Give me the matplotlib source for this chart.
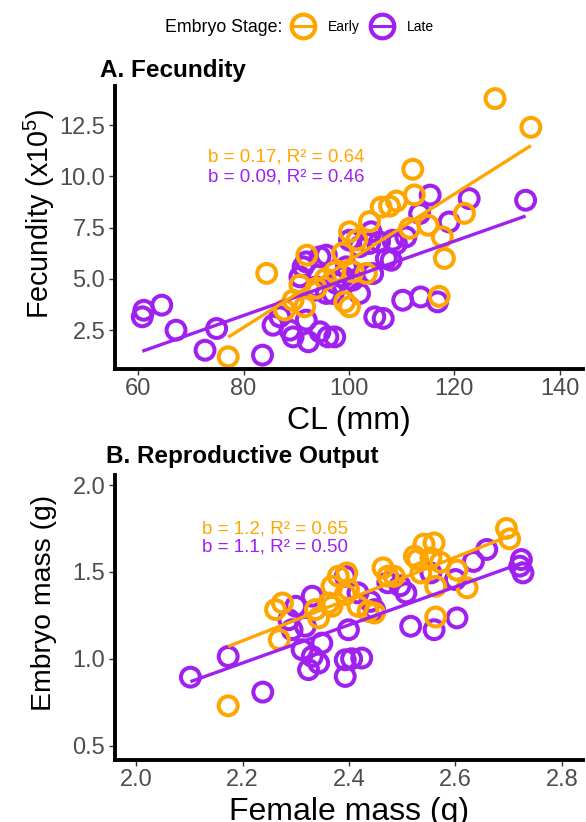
import numpy as np
import matplotlib
matplotlib.use("Agg")
import matplotlib.pyplot as plt
from matplotlib.lines import Line2D

plt.rcParams["font.family"] = ["Liberation Sans", "DejaVu Sans"]
plt.rcParams["mathtext.fontset"] = "custom"
plt.rcParams["mathtext.rm"] = "Liberation Sans"
plt.rcParams["mathtext.it"] = "Liberation Sans:italic"

ORANGE = "#FFA500"
PURPLE = "#A020F0"

# Panel A: carapace length (mm) vs fecundity (x10^5)
early_cl = [127.7, 134.5, 112.1, 112.4, 109.0, 107.7, 106.1, 121.9, 115.0, 111.5,
            103.9, 100.1, 117.7, 118.1, 98.8, 92.0, 84.4, 97.3, 103.3, 100.8,
            90.7, 93.8, 117.1, 99.2, 100.1, 87.8, 91.6, 89.4, 77.1, 101.5, 95.5]
early_fec = [13.8, 12.4, 10.35, 9.1, 8.8, 8.55, 8.5, 8.2, 7.62, 7.47,
             7.8, 7.3, 7.05, 6.0, 6.26, 6.16, 5.27, 5.34, 5.27, 5.35,
             4.7, 4.55, 4.15, 3.88, 3.64, 3.48, 3.64, 3.96, 1.2, 6.9, 5.0]
late_cl = [60.8, 61.1, 64.5, 67.2, 74.9, 72.7, 83.6, 85.6, 86.9, 88.8,
           89.4, 91.9, 92.3, 94.5, 96.0, 97.3, 91.9, 94.5, 95.7, 91.3,
           93.8, 93.5, 97.0, 97.6, 95.7, 100.1, 102.0, 104.2, 105.8, 103.9,
           104.5, 102.0, 100.7, 99.5, 108.0, 107.1, 108.3, 109.0, 110.8, 113.4,
           115.4, 119.0, 122.8, 133.5, 110.2, 113.6, 116.8, 104.9, 106.5, 90.7, 98.9]
late_fec = [3.15, 3.47, 3.72, 2.5, 2.58, 1.52, 1.28, 2.74, 3.15, 2.5,
            2.17, 2.99, 1.93, 2.42, 2.17, 2.17, 5.83, 6.08, 6.16, 5.59,
            4.61, 4.45, 4.29, 4.78, 4.29, 6.89, 6.57, 7.3, 6.81, 6.73,
            5.26, 4.29, 4.94, 5.59, 5.91, 6.0, 6.89, 6.72, 7.05, 8.19,
            9.09, 7.78, 8.92, 8.84, 3.96, 4.12, 3.88, 3.15, 3.07, 5.1, 5.1]

# Panel B: female mass (g) vs embryo mass (g)
early_fm = [2.173, 2.696, 2.702, 2.560, 2.541, 2.529, 2.554, 2.572, 2.464, 2.485,
            2.396, 2.380, 2.368, 2.399, 2.393, 2.603, 2.622, 2.563, 2.563, 2.275,
            2.262, 2.269, 2.337, 2.343, 2.362, 2.368, 2.417, 2.436, 2.448, 2.523,
            2.535, 2.473]
early_em = [0.729, 1.75, 1.69, 1.667, 1.66, 1.571, 1.58, 1.555, 1.523, 1.475,
            1.494, 1.475, 1.417, 1.398, 1.37, 1.51, 1.408, 1.417, 1.24, 1.321,
            1.283, 1.11, 1.283, 1.235, 1.321, 1.302, 1.302, 1.273, 1.263, 1.59,
            1.494, 1.475]
late_fm = [2.102, 2.173, 2.238, 2.300, 2.287, 2.293, 2.318, 2.331, 2.393, 2.417,
           2.312, 2.331, 2.343, 2.324, 2.349, 2.393, 2.405, 2.424, 2.393, 2.399,
           2.473, 2.448, 2.507, 2.516, 2.560, 2.603, 2.554, 2.600, 2.634, 2.659,
           2.724, 2.727, 2.721, 2.496, 2.44]
late_em = [0.894, 1.013, 0.808, 1.302, 1.225, 1.167, 1.187, 1.36, 1.475, 1.379,
           1.052, 1.013, 0.975, 0.937, 1.09, 0.994, 1.0, 1.004, 0.898, 1.167,
           1.437, 1.283, 1.379, 1.187, 1.167, 1.235, 1.494, 1.456, 1.56, 1.629,
           1.571, 1.494, 1.533, 1.42, 1.33]

labels_a = ["b = 0.17, R\u00b2 = 0.64", "b = 0.09, R\u00b2 = 0.46"]
labels_b = ["b = 1.2, R\u00b2 = 0.65", "b = 1.1, R\u00b2 = 0.50"]


def style_axis(ax):
    for side in ["top", "right"]:
        ax.spines[side].set_visible(False)
    for side in ["left", "bottom"]:
        ax.spines[side].set_linewidth(2.8)
        ax.spines[side].set_color("black")
    ax.tick_params(axis="both", labelsize=17, colors="#333333", labelcolor="#4D4D4D",
                   length=4, width=1.0, pad=3)
    ax.tick_params(axis="x", pad=2.5)


def draw_group(ax, x, y, color):
    ax.scatter(x, y, s=185, facecolors="none", edgecolors=color, linewidths=2.9, zorder=2)
    b, a = np.polyfit(x, y, 1)
    xs = np.array([min(x), max(x)])
    ax.plot(xs, a + b * xs, color=color, lw=2.4, zorder=3, solid_capstyle="butt")


def main():
    fig = plt.figure(figsize=(5.86, 8.22), dpi=100)
    ax_a = fig.add_axes([0.196, 0.551, 0.799, 0.344])
    ax_b = fig.add_axes([0.196, 0.0754, 0.799, 0.3466])

    # A. Fecundity
    draw_group(ax_a, late_cl, late_fec, PURPLE)
    draw_group(ax_a, early_cl, early_fec, ORANGE)
    ax_a.set_xlim(55.6, 144.4)
    ax_a.set_ylim(0.6, 14.4)
    ax_a.set_xticks([60, 80, 100, 120, 140])
    ax_a.set_yticks([2.5, 5.0, 7.5, 10.0, 12.5])
    ax_a.set_yticklabels([f"{v:.1f}" for v in [2.5, 5.0, 7.5, 10.0, 12.5]])
    ax_a.set_xlabel("CL (mm)", fontsize=23, labelpad=4.6)
    ax_a.set_ylabel("Fecundity (x10$^5$)", fontsize=20.7)
    ax_a.yaxis.set_label_coords(-0.124, 0.551)
    ax_a.text(73.2, 10.96, labels_a[0], color=ORANGE, fontsize=13.5, va="center")
    ax_a.text(73.2, 9.98, labels_a[1], color=PURPLE, fontsize=13.5, va="center")
    ax_a.text(-0.032, 1.057, "A. Fecundity", transform=ax_a.transAxes,
              fontsize=17.5, fontweight="bold", va="center")
    style_axis(ax_a)

    # B. Reproductive Output
    draw_group(ax_b, late_fm, late_em, PURPLE)
    draw_group(ax_b, early_fm, early_em, ORANGE)
    ax_b.set_xlim(1.96, 2.84)
    ax_b.set_ylim(0.417, 2.057)
    ax_b.set_xticks([2.0, 2.2, 2.4, 2.6, 2.8])
    ax_b.set_xticklabels([f"{v:.1f}" for v in [2.0, 2.2, 2.4, 2.6, 2.8]])
    ax_b.set_yticks([0.5, 1.0, 1.5, 2.0])
    ax_b.set_yticklabels([f"{v:.1f}" for v in [0.5, 1.0, 1.5, 2.0]])
    ax_b.set_xlabel("Female mass (g)", fontsize=23, labelpad=4.6)
    ax_b.set_ylabel("Embryo mass (g)", fontsize=20.4)
    ax_b.yaxis.set_label_coords(-0.124, 0.552)
    ax_b.text(2.123, 1.744, labels_b[0], color=ORANGE, fontsize=13.5, va="center")
    ax_b.text(2.123, 1.644, labels_b[1], color=PURPLE, fontsize=13.5, va="center")
    ax_b.text(-0.019, 1.067, "B. Reproductive Output", transform=ax_b.transAxes,
              fontsize=17.5, fontweight="bold", va="center")
    style_axis(ax_b)

    # legend on top
    handles = [
        Line2D([], [], color=ORANGE, marker="o", mfc="none", mew=3.0, ms=17, lw=2.2),
        Line2D([], [], color=PURPLE, marker="o", mfc="none", mew=3.0, ms=17, lw=2.2),
    ]
    fig.text(165 / 586, 1 - 27 / 822, "Embryo Stage:", fontsize=12.8, va="center")
    fig.legend(handles, ["Early", "Late"], loc="center left", ncol=2,
               bbox_to_anchor=(292.5 / 586, 1 - 27 / 822), frameon=False,
               fontsize=10, handlelength=1.5, handletextpad=1.04, columnspacing=0.83,
               borderaxespad=0, borderpad=0)

    fig.savefig("out.png", dpi=100)


if __name__ == "__main__":
    main()
